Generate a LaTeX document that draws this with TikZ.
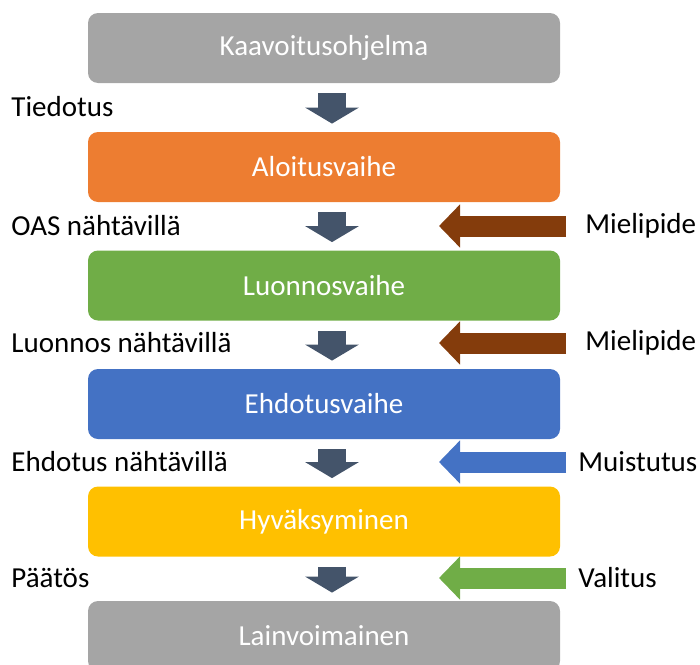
\documentclass[tikz,border=0pt]{standalone}
\usepackage{fontspec}
\setmainfont{Carlito}
\usetikzlibrary{arrows.meta}
\definecolor{harmaa}{HTML}{A5A5A5}
\definecolor{oranssi}{HTML}{ED7D31}
\definecolor{vihrea}{HTML}{70AD47}
\definecolor{sininen}{HTML}{4472C4}
\definecolor{keltainen}{HTML}{FFC000}
\definecolor{tumma}{HTML}{44546A}
\definecolor{ruskea}{HTML}{843C0C}
\tikzstyle{vaihe} = [rectangle, rounded corners=5pt, minimum width=236pt, minimum height=35pt, inner sep=0pt, text=white, font=\fontsize{14.5}{17}\selectfont]
\tikzstyle{teksti} = [inner sep=0pt, anchor=west, font=\fontsize{14.5}{17}\selectfont]
\tikzstyle{alas} = [draw=tumma, line width=14pt, -{Triangle[width=26.5pt,length=8pt]}, shorten <=5pt, shorten >=4pt]
\tikzstyle{vasen} = [line width=10.5pt, -{Triangle[width=21pt,length=10.5pt]}]

\begin{document}
\begin{tikzpicture}[x=0.5pt, y=-0.5pt]
        \useasboundingbox (0,0) rectangle (700,664);
        \clip (0,0) rectangle (700,664);

        % vaiheet
        \node[vaihe, fill=harmaa](kaava) at (324,48){Kaavoitusohjelma};
        \node[vaihe, fill=oranssi](aloitus) at (324,167){Aloitusvaihe};
        \node[vaihe, fill=vihrea](luonnos) at (324,285.5){Luonnosvaihe};
        \node[vaihe, fill=sininen](ehdotus) at (324,404){Ehdotusvaihe};
        \node[vaihe, fill=keltainen](hyvaks) at (324,521.5){Hyväksyminen};
        \node[vaihe, fill=harmaa](lainv) at (324,636){Lainvoimainen};

        \draw[alas] ([xshift=4pt]kaava.south) -- ([xshift=4pt]aloitus.north);
        \draw[alas] ([xshift=4pt]aloitus.south) -- ([xshift=4pt]luonnos.north);
        \draw[alas] ([xshift=4pt]luonnos.south) -- ([xshift=4pt]ehdotus.north);
        \draw[alas] ([xshift=4pt]ehdotus.south) -- ([xshift=4pt]hyvaks.north);
        \draw[alas] ([xshift=4pt]hyvaks.south) -- ([xshift=4pt]lainv.north);

        % vasen puoli
        \node[teksti](t1) at (11,107){Tiedotus};
        \node[teksti](t2) at (11,226){OAS nähtävillä};
        \node[teksti](t3) at (11,343){Luonnos nähtävillä};
        \node[teksti](t4) at (11,462){Ehdotus nähtävillä};
        \node[teksti](t5) at (11,578){Päätös};

        % oikea puoli
        \node[teksti](o1) at (585,226){Mielipide};
        \node[teksti](o2) at (585,343){Mielipide};
        \node[teksti](o3) at (578,462){Muistutus};
        \node[teksti](o4) at (578,578){Valitus};

        \coordinate (p1) at (566,226); \coordinate (k1) at (439,226);
        \coordinate (p2) at (566,343); \coordinate (k2) at (439,343);
        \coordinate (p3) at (566,462); \coordinate (k3) at (439,462);
        \coordinate (p4) at (566,578); \coordinate (k4) at (439,578);

        \draw[vasen, draw=ruskea] (p1) -- (k1);
        \draw[vasen, draw=ruskea] (p2) -- (k2);
        \draw[vasen, draw=sininen] (p3) -- (k3);
        \draw[vasen, draw=vihrea] (p4) -- (k4);
\end{tikzpicture}
\end{document}
